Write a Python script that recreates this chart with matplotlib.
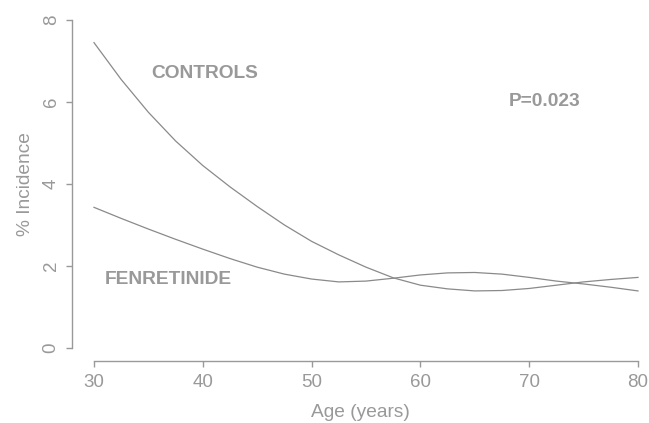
import matplotlib.pyplot as plt

ages = [30, 32.5, 35, 37.5, 40, 42.5, 45, 47.5, 50, 52.5, 55,
        57.5, 60, 62.5, 65, 67.5, 70, 72.5, 75, 77.5, 80]
controls = [7.45, 6.55, 5.75, 5.05, 4.45, 3.93, 3.45, 3.00, 2.60, 2.27, 1.97,
            1.71, 1.53, 1.44, 1.39, 1.40, 1.45, 1.53, 1.61, 1.67, 1.72]
fenretinide = [3.43, 3.16, 2.90, 2.65, 2.41, 2.18, 1.97, 1.80, 1.68, 1.61, 1.63,
               1.70, 1.78, 1.83, 1.84, 1.80, 1.72, 1.63, 1.56, 1.48, 1.39]
x_ticks = [30, 40, 50, 60, 70, 80]
y_ticks = [0, 2, 4, 6, 8]

grey = '#999999'
line_grey = '#8a8a8a'
plt.rcParams['font.family'] = ['Liberation Sans', 'DejaVu Sans']

fig = plt.figure(figsize=(6.49, 4.23), dpi=100)
ax = fig.add_axes([0.1113, 0.1466, 0.8885, 0.8369])

ax.plot(ages, controls, color=line_grey, lw=0.9)
ax.plot(ages, fenretinide, color=line_grey, lw=0.9)

ax.text(40.2, 6.7, 'CONTROLS', color=grey, fontsize=13.8, fontweight='bold',
        ha='center', va='center')
ax.text(36.8, 1.66, 'FENRETINIDE', color=grey, fontsize=13.8, fontweight='bold',
        ha='center', va='center')
ax.text(71.4, 6.01, 'P=0.023', color=grey, fontsize=13.8, fontweight='bold',
        ha='center', va='center')

ax.set_xlim(28, 81)
ax.set_ylim(-0.32, 8.32)
ax.set_xticks(x_ticks)
ax.set_yticks(y_ticks)
ax.set_yticklabels([str(v) for v in y_ticks], rotation=90, va='center')

for side in ['top', 'right']:
    ax.spines[side].set_visible(False)
ax.spines['bottom'].set_bounds(30, 80)
ax.spines['left'].set_bounds(0, 8)
for side in ['bottom', 'left']:
    ax.spines[side].set_color(grey)
    ax.spines[side].set_linewidth(1.0)

ax.tick_params(axis='both', colors=grey, labelcolor=grey, length=4.5,
               width=1.0, labelsize=13.5)
ax.tick_params(axis='x', pad=5)
ax.tick_params(axis='y', pad=4.5)

ax.set_xlabel('Age (years)', color=grey, fontsize=13.8, labelpad=9)
ax.set_ylabel('% Incidence', color=grey, fontsize=13.8, labelpad=6.5)

fig.savefig('out.png', dpi=100)
